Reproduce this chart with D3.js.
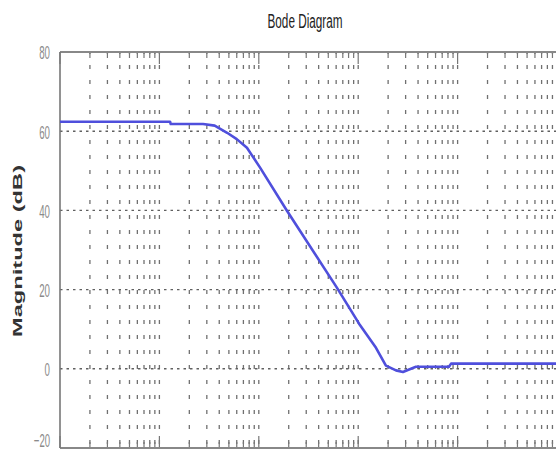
<!DOCTYPE html>
<html>
<head>
<meta charset="utf-8">
<script src="https://cdn.jsdelivr.net/npm/d3@7/dist/d3.min.js"></script>
<style>
  html, body { margin: 0; padding: 0; background: #fff; }
  svg { display: block; }
</style>
</head>
<body>
<svg id="chart" width="556" height="451"></svg>
<script>
// Frequency response samples (rad/sec) and magnitude (dB)
const freq = [0.1, 1.28, 1.3, 2.75, 3.6, 4.8, 6.0, 7.6, 10.3, 19.2, 61, 102, 151, 190, 240, 282, 330, 381, 819, 860, 12000];
const magDb = [62.4, 62.4, 61.8, 61.8, 61.4, 59.6, 58.0, 55.8, 50.8, 39.9, 20.5, 11.4, 5.3, 0.8, -0.4, -0.8, -0.1, 0.5, 0.5, 1.3, 1.3];

const yTicks = [80, 60, 40, 20, 0, -20];
const yGrid = [60, 40, 20, 0];
const xDecades = [0.1, 1, 10, 100, 1000, 10000];

const titleText = "Bode Diagram";
const yLabelText = "Magnitude (dB)";

const svg = d3.select("#chart");
const plotLeft = 60, plotRight = 557, plotTop = 52, plotBottom = 448;

const x = d3.scaleLog().domain([0.1, 10000]).range([plotLeft, plotRight]);
const y = d3.scaleLinear().domain([-20, 80]).range([plotBottom, plotTop]);

// minor positions 1..9 within every decade
const minorVals = [];
xDecades.slice(0, -1).forEach(d => {
  for (let k = 1; k <= 9; k++) minorVals.push(d * k);
});
minorVals.push(10000);

const plot = svg.append("g");

// vertical dotted grid at each log position
plot.selectAll("line.vgrid").data(minorVals.filter(v => v > 0.1)).join("line")
  .attr("class", "vgrid")
  .attr("x1", d => x(d)).attr("x2", d => x(d))
  .attr("y1", plotTop).attr("y2", plotBottom)
  .attr("stroke", "#707070").attr("stroke-width", 1.3)
  .attr("stroke-dasharray", "4,11").attr("stroke-dashoffset", 2);

// horizontal dotted grid
plot.selectAll("line.hgrid").data(yGrid).join("line")
  .attr("class", "hgrid")
  .attr("x1", plotLeft).attr("x2", plotRight)
  .attr("y1", d => y(d)).attr("y2", d => y(d))
  .attr("stroke", "#606060").attr("stroke-width", 1.4)
  .attr("stroke-dasharray", "2.5,4");

// tick marks on top and bottom edges
const isDecade = v => Math.abs(Math.log10(v) - Math.round(Math.log10(v))) < 1e-9;
[plotTop, plotBottom].forEach((edge, i) => {
  const dir = i === 0 ? 1 : -1;
  plot.selectAll("line.xt" + i).data(minorVals).join("line")
    .attr("class", "xt" + i)
    .attr("x1", d => x(d)).attr("x2", d => x(d))
    .attr("y1", edge).attr("y2", d => edge + dir * (isDecade(d) ? 12 : 6))
    .attr("stroke", "#777").attr("stroke-width", 1.2);
});

// frame
plot.append("line").attr("x1", plotLeft).attr("x2", plotRight).attr("y1", plotTop).attr("y2", plotTop)
  .attr("stroke", "#888").attr("stroke-width", 2.2);
plot.append("line").attr("x1", plotLeft).attr("x2", plotRight).attr("y1", plotBottom).attr("y2", plotBottom)
  .attr("stroke", "#888").attr("stroke-width", 2.2);
plot.append("line").attr("x1", plotLeft).attr("x2", plotLeft).attr("y1", plotTop).attr("y2", plotBottom)
  .attr("stroke", "#777").attr("stroke-width", 1.6);

// y axis labels (the lowest one is lifted a little so it stays inside the canvas)
const yAxis = d3.axisLeft(y).tickValues(yTicks).tickSize(0).tickFormat(d3.format("d"));
const ya = svg.append("g").attr("transform", `translate(${plotLeft},0)`).call(yAxis);
ya.select(".domain").remove();
ya.selectAll(".tick text")
  .attr("x", -10)
  .attr("y", d => d === -20 ? -8 : 0)
  .attr("dy", "0.36em")
  .attr("font-family", "Liberation Sans, Arial, sans-serif")
  .attr("font-size", 19)
  .attr("fill", "#8a8a8a")
  .attr("textLength", d => String(d).length * 5.4)
  .attr("lengthAdjust", "spacingAndGlyphs");

// magnitude curve
const line = d3.line().x((d, i) => x(freq[i])).y(d => y(d));
svg.append("path")
  .datum(magDb)
  .attr("d", line)
  .attr("fill", "none")
  .attr("stroke", "#4f4fdc")
  .attr("stroke-width", 2.6)
  .attr("stroke-linejoin", "round");

// title
svg.append("text")
  .attr("x", 305).attr("y", 28)
  .attr("text-anchor", "middle")
  .attr("font-family", "Liberation Sans, Arial, sans-serif")
  .attr("font-size", 20)
  .attr("fill", "#222")
  .attr("textLength", 75)
  .attr("lengthAdjust", "spacingAndGlyphs")
  .text(titleText);

// y axis title
svg.append("text")
  .attr("transform", "translate(22,251) rotate(-90)")
  .attr("text-anchor", "middle")
  .attr("font-family", "Liberation Sans, Arial, sans-serif")
  .attr("font-size", 13)
  .attr("font-weight", "bold")
  .attr("fill", "#333")
  .attr("textLength", 172)
  .attr("lengthAdjust", "spacingAndGlyphs")
  .text(yLabelText);
</script>
</body>
</html>
